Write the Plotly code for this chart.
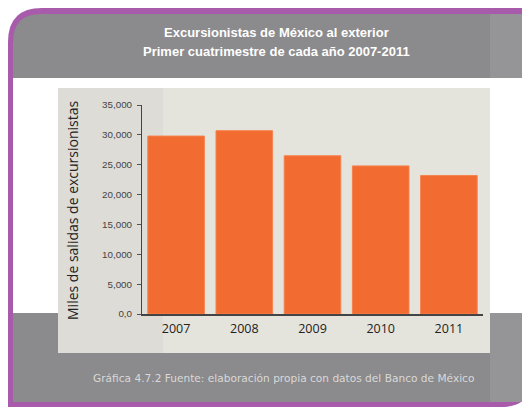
import plotly.graph_objects as go

# Data: trips abroad by Mexican same-day visitors (thousands), Jan-Apr of each year
years = ["2007", "2008", "2009", "2010", "2011"]
salidas = [29800, 30700, 26500, 24800, 23200]

y_tick_vals = [0, 5000, 10000, 15000, 20000, 25000, 30000, 35000]
y_tick_text = ["0,0", "5,000", "10,000", "15,000", "20,000", "25,000", "30,000", "35,000"]

title_lines = ["Excursionistas de México al exterior",
               "Primer cuatrimestre de cada año 2007-2011"]
y_title = "Miles de salidas de excursionistas"
caption = "Gráfica 4.7.2 Fuente: elaboración propia con datos del Banco de México"

W, H = 522, 407
L, R, T, B = 142, 39, 105, 93
PW, PH = W - L - R, H - T - B


def px(x, y):
    """Convert pixel position to paper coordinates."""
    return (x - L) / PW, (H - B - y) / PH


def rect(x0, y0, x1, y1, color):
    a, b = px(x0, y1)
    c, d = px(x1, y0)
    return dict(type="rect", xref="paper", yref="paper", x0=a, y0=b, x1=c, y1=d,
                fillcolor=color, line=dict(width=0), layer="below")


def rounded(x0, y0, x1, y1, r_tl, r_br, color):
    def P(x, y):
        a, b = px(x, y)
        return f"{a:.5f},{b:.5f}"

    path = (f"M {P(x0, y0 + r_tl)} Q {P(x0, y0)} {P(x0 + r_tl, y0)} "
            f"L {P(x1, y0)} L {P(x1, y1 - r_br)} Q {P(x1, y1)} {P(x1 - r_br, y1)} "
            f"L {P(x0, y1)} Z")
    return dict(type="path", xref="paper", yref="paper", path=path,
                fillcolor=color, line=dict(width=0), layer="below")


shapes = [
    rounded(8, 8, 534, 407, 34, 34, "#a85aab"),
    rounded(13, 14, 530, 402, 28, 30, "#8b8a8c"),
    rect(490, 14, 522, 78, "#959496"),
    rect(490, 313, 522, 402, "#959496"),
    rect(13, 78, 522, 313, "#ffffff"),
    rect(58, 88, 490, 353, "#e5e4dc"),
    rect(58, 88, 163, 353, "#dedcd6"),
]

fig = go.Figure(go.Bar(
    x=years, y=salidas,
    marker=dict(color="#f26b30", line=dict(color="#f5834f", width=1)),
    hoverinfo="x+y",
))

annotations = []
for i, line in enumerate(title_lines):
    x, y = px(276, 32 + 19 * i)
    annotations.append(dict(x=x, y=y, xref="paper", yref="paper", text=f"<b>{line}</b>",
                            showarrow=False, xanchor="center", yanchor="middle",
                            font=dict(family="Liberation Sans", size=13, color="#ffffff")))
x, y = px(72, 210)
annotations.append(dict(x=x, y=y, xref="paper", yref="paper", text=y_title, textangle=-90,
                        showarrow=False, xanchor="center", yanchor="middle",
                        font=dict(family="Open Sans", size=14, color="#222222")))
x, y = px(283, 378)
annotations.append(dict(x=x, y=y, xref="paper", yref="paper", text=caption,
                        showarrow=False, xanchor="center", yanchor="middle",
                        font=dict(family="DejaVu Sans", size=10.6, color="#d9d9d9")))

fig.update_layout(
    width=W, height=H,
    margin=dict(l=L, r=R, t=T, b=B),
    paper_bgcolor="#ffffff",
    plot_bgcolor="rgba(0,0,0,0)",
    showlegend=False,
    bargap=0.17,
    shapes=shapes,
    annotations=annotations,
    xaxis=dict(showgrid=False, showline=True, linecolor="#444444", linewidth=1.5,
               ticks="", tickfont=dict(family="Open Sans", size=12.5, color="#222222"),
               ticklabelstandoff=2, range=[-0.5, 4.5]),
    yaxis=dict(range=[0, 35000], showgrid=False, showline=True, linecolor="#444444",
               linewidth=1, ticks="outside", ticklen=4, tickcolor="#555555",
               tickvals=y_tick_vals, ticktext=y_tick_text, zeroline=False,
               ticklabelstandoff=3,
               tickfont=dict(family="Liberation Sans", size=9.8, color="#444444")),
)

fig.write_html("out.html")
